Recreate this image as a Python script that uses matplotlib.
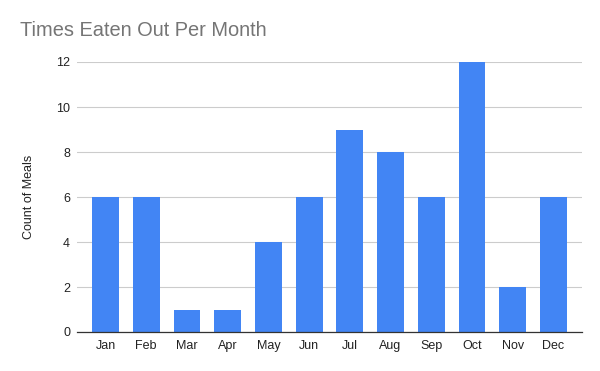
import matplotlib
matplotlib.use("Agg")
import matplotlib.pyplot as plt

months = ["Jan", "Feb", "Mar", "Apr", "May", "Jun", "Jul", "Aug", "Sep", "Oct", "Nov", "Dec"]
counts = [6, 6, 1, 1, 4, 6, 9, 8, 6, 12, 2, 6]
yticks = [0, 2, 4, 6, 8, 10, 12]

plt.rcParams['font.family'] = ['Liberation Sans', 'DejaVu Sans']

fig = plt.figure(figsize=(6, 3.71), dpi=100)
W, H = 600, 371
ax = fig.add_axes([77 / W, 1 - 332 / H, (582 - 77) / W, (332 - 62) / H])

x = list(range(len(months)))
ax.bar(x, counts, width=0.66, color="#4285F4", zorder=3)

ax.set_xlim(-0.70, 11.70)
ax.set_ylim(0, 12)
ax.set_yticks(yticks)
ax.set_yticklabels([str(v) for v in yticks])
ax.set_xticks(x)
ax.set_xticklabels(months)
ax.grid(axis="y", color="#cccccc", linewidth=0.8, zorder=0)
ax.tick_params(axis="both", length=0, labelsize=9, colors="#222222", pad=6)
ax.tick_params(axis="y", pad=5)
for s in ["top", "right", "left"]:
    ax.spines[s].set_visible(False)
ax.spines["bottom"].set_color("#333333")
ax.spines["bottom"].set_linewidth(0.9)
ax.spines["bottom"].set_zorder(4)

ax.set_ylabel("Count of Meals", fontsize=9, color="#222222", labelpad=15)
fig.text(20 / W, 1 - 30 / H, "Times Eaten Out Per Month", fontsize=14.4, color="#757575",
         ha="left", va="center")

fig.savefig("out.png", dpi=100)
